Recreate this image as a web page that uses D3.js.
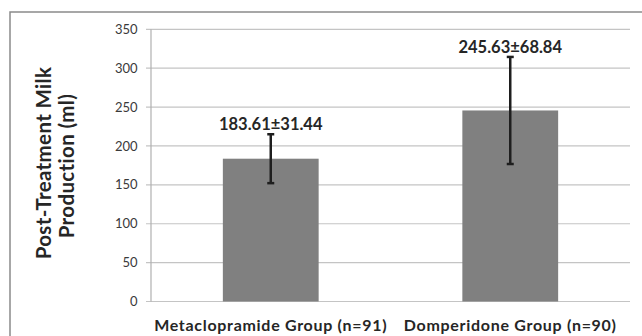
<!DOCTYPE html>
<html>
<head>
<meta charset="utf-8">
<script src="https://cdn.jsdelivr.net/npm/d3@7"></script>
<style>
  html, body { margin: 0; padding: 0; background: #fff; }
  svg { display: block; }
</style>
</head>
<body>
<svg id="chart" width="642" height="336"></svg>
<script>
const categories = ["Metaclopramide Group (n=91)", "Domperidone Group (n=90)"];
const means = [183.61, 245.63];
const sds = [31.44, 68.84];
const yTicks = [0, 50, 100, 150, 200, 250, 300, 350];
const yTitle = ["Post-Treatment Milk", "Production (ml)"];

const svg = d3.select("#chart");
const plot = { left: 151, right: 630, top: 29.3, bottom: 301.5 };
const FONT = "Lato, 'Open Sans', sans-serif";

// outer frame
svg.append("rect")
  .attr("x", 10).attr("y", 12)
  .attr("width", 700).attr("height", 400)
  .attr("fill", "none").attr("stroke", "#8a8a8a").attr("stroke-width", 1.5);

const x = d3.scaleBand().domain(categories).range([plot.left, plot.right]).padding(0);
const y = d3.scaleLinear().domain([0, 350]).range([plot.bottom, plot.top]);

// gridlines
svg.append("g").selectAll("line").data(yTicks).join("line")
  .attr("x1", plot.left - 5).attr("x2", plot.right)
  .attr("y1", d => y(d)).attr("y2", d => y(d))
  .attr("stroke", "#c4c4c4").attr("stroke-width", 1.2);

// y axis line
svg.append("line")
  .attr("x1", plot.left).attr("x2", plot.left)
  .attr("y1", y(350)).attr("y2", y(0))
  .attr("stroke", "#b0b0b0").attr("stroke-width", 1.2);

// y tick labels
svg.append("g").selectAll("text").data(yTicks).join("text")
  .attr("x", 137.5).attr("y", d => y(d))
  .attr("dy", "0.35em")
  .attr("text-anchor", "end")
  .attr("font-family", FONT).attr("font-size", 13)
  .attr("fill", "#3a3a3a")
  .text(d => d);

// bars
const barW = x.bandwidth() * 0.4;
const data = categories.map((c, i) => ({ c, m: means[i], s: sds[i] }));

svg.append("g").selectAll("rect").data(data).join("rect")
  .attr("x", d => x(d.c) + x.bandwidth() / 2 - barW / 2)
  .attr("width", barW)
  .attr("y", d => y(d.m))
  .attr("height", d => y(0) - y(d.m))
  .attr("fill", "#808080");

// error bars
const eb = svg.append("g").attr("stroke", "#1e1e1e").attr("stroke-width", 2.5);
data.forEach(d => {
  const cx = x(d.c) + x.bandwidth() / 2;
  eb.append("line").attr("x1", cx).attr("x2", cx).attr("y1", y(d.m + d.s)).attr("y2", y(d.m - d.s));
  eb.append("line").attr("x1", cx - 3.5).attr("x2", cx + 3.5).attr("y1", y(d.m + d.s)).attr("y2", y(d.m + d.s));
  eb.append("line").attr("x1", cx - 3.5).attr("x2", cx + 3.5).attr("y1", y(d.m - d.s)).attr("y2", y(d.m - d.s));
});

// value labels
svg.append("g").selectAll("text").data(data).join("text")
  .attr("x", d => x(d.c) + x.bandwidth() / 2)
  .attr("y", d => y(d.m + d.s) - 4)
  .attr("text-anchor", "middle")
  .attr("font-family", FONT).attr("font-weight", "bold").attr("font-size", 16.5)
  .attr("fill", "#262626")
  .text(d => d.m.toFixed(2) + "±" + d.s.toFixed(2));

// category labels
svg.append("g").selectAll("text").data(categories).join("text")
  .attr("x", d => x(d) + x.bandwidth() / 2)
  .attr("y", 330.5)
  .attr("text-anchor", "middle")
  .attr("font-family", FONT).attr("font-weight", "bold").attr("font-size", 16)
  .attr("letter-spacing", 0.7)
  .attr("fill", "#262626")
  .text(d => d);

// y title
const yt = svg.append("text")
  .attr("transform", "translate(0,163) rotate(-90)")
  .attr("text-anchor", "middle")
  .attr("font-family", FONT).attr("font-weight", "bold").attr("font-size", 20.5)
  .attr("letter-spacing", 0.35)
  .attr("fill", "#262626");
yt.append("tspan").attr("x", 0).attr("y", 50.5).text(yTitle[0]);
yt.append("tspan").attr("x", -3).attr("y", 74).text(yTitle[1]);
</script>
</body>
</html>
